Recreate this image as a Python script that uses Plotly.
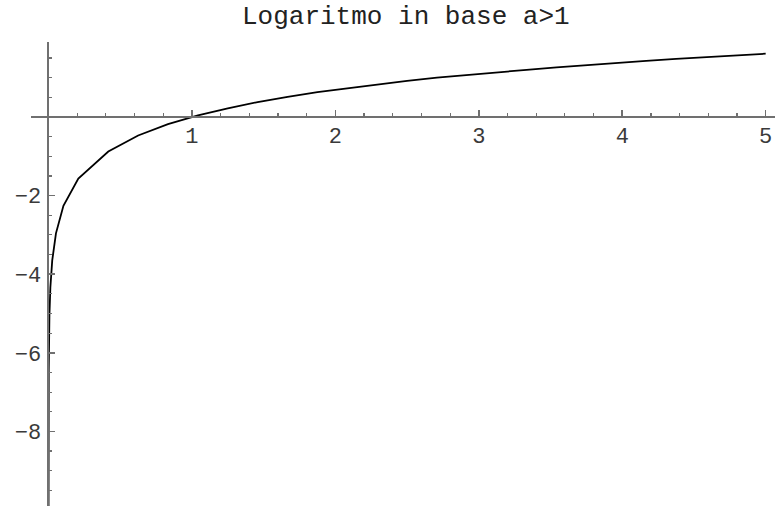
import plotly.graph_objects as go

# Curve points (y = log of x)
x_vals = [0.00002, 0.0001, 0.0004, 0.0016, 0.0065, 0.013, 0.026, 0.052, 0.104,
          0.208, 0.417, 0.625, 0.833, 1.042, 1.25, 1.458, 1.667, 1.875, 2.083,
          2.292, 2.5, 2.708, 2.917, 3.125, 3.333, 3.542, 3.75, 3.958, 4.167,
          4.375, 4.583, 4.792, 5.0]
y_vals = [-10.8, -9.21, -7.82, -6.43, -5.04, -4.34, -3.65, -2.96, -2.26,
          -1.57, -0.88, -0.47, -0.18, 0.04, 0.22, 0.38, 0.51, 0.63, 0.73,
          0.83, 0.92, 1.00, 1.07, 1.14, 1.20, 1.26, 1.32, 1.38, 1.43,
          1.48, 1.52, 1.57, 1.61]

x_ticks = [1, 2, 3, 4, 5]
y_ticks = [-8, -6, -4, -2]
title_text = "Logaritmo in base a>1"

W, H = 775, 506
x_range = [-0.122, 5.065]
y_range = [-9.898, 1.908]
x_dom = [31 / W, 1.0]
y_dom = [0.0, 1 - 42 / H]

# position of the crossing axes (at data zero) in paper units
x_axis_pos = y_dom[0] + (0 - y_range[0]) / (y_range[1] - y_range[0]) * (y_dom[1] - y_dom[0])
y_axis_pos = x_dom[0] + (0 - x_range[0]) / (x_range[1] - x_range[0]) * (x_dom[1] - x_dom[0])

axis_col = "#707070"
tick_font = dict(family="Liberation Mono, Courier New, monospace", size=22, color="#3a3a3a")

fig = go.Figure()
fig.add_trace(go.Scatter(x=x_vals, y=y_vals, mode="lines",
                         line=dict(color="black", width=1.8),
                         hoverinfo="skip", showlegend=False, cliponaxis=True))

fig.update_layout(
    width=W, height=H,
    margin=dict(l=0, r=0, t=0, b=0, pad=0),
    paper_bgcolor="white", plot_bgcolor="white",
    showlegend=False,
    xaxis=dict(domain=x_dom, range=x_range, anchor="free", position=x_axis_pos,
               showgrid=False, zeroline=False, showline=True,
               linecolor=axis_col, linewidth=2,
               tickmode="array", tickvals=x_ticks,
               ticks="inside", ticklen=6, tickwidth=1.5, tickcolor=axis_col,
               minor=dict(ticks="inside", ticklen=3, tickwidth=1.2, tickcolor=axis_col,
                          tickmode="linear", tick0=0, dtick=0.2, showgrid=False),
               tickfont=tick_font, ticklabelstandoff=-1),
    yaxis=dict(domain=y_dom, range=y_range, anchor="free", position=y_axis_pos,
               side="left",
               showgrid=False, zeroline=False, showline=True,
               linecolor=axis_col, linewidth=2,
               tickmode="array", tickvals=y_ticks,
               ticks="inside", ticklen=6, tickwidth=1.5, tickcolor=axis_col,
               minor=dict(ticks="inside", ticklen=3, tickwidth=1.2, tickcolor=axis_col,
                          tickmode="linear", tick0=0, dtick=0.5, showgrid=False),
               tickfont=tick_font, ticklabelstandoff=2),
    annotations=[dict(text=title_text, x=406 / W, y=1 - 17 / H,
                      xref="paper", yref="paper", xanchor="center", yanchor="middle",
                      showarrow=False,
                      font=dict(family="Liberation Mono, Courier New, monospace",
                                size=26, color="#222222"))],
)

fig.write_html("out.html",
               config={"displayModeBar": False, "staticPlot": True},
               post_script="document.body.style.margin='0';document.body.style.overflow='hidden';")
